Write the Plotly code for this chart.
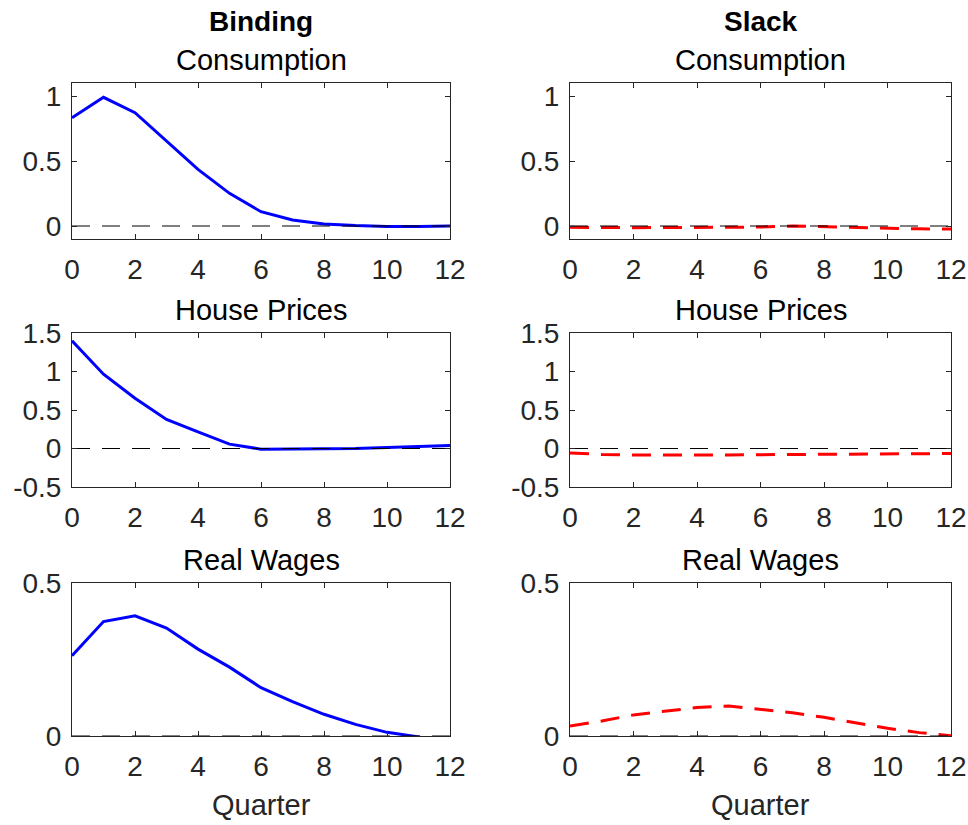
import plotly.graph_objects as go

quarters = list(range(13))

binding_consumption = [0.833, 0.99, 0.872, 0.654, 0.436, 0.251, 0.11, 0.046, 0.015, 0.003, -0.003, -0.003, 0.0]
slack_consumption = [-0.010, -0.013, -0.013, -0.012, -0.012, -0.011, -0.008, 0.0, -0.006, -0.012, -0.018, -0.022, -0.023]

binding_house = [1.40, 0.965, 0.652, 0.378, 0.217, 0.057, -0.009, -0.009, -0.004, 0.0, 0.013, 0.022, 0.039]
slack_house = [-0.057, -0.078, -0.085, -0.087, -0.087, -0.085, -0.080, -0.076, -0.074, -0.072, -0.069, -0.067, -0.065]

binding_wages = [0.262, 0.374, 0.393, 0.353, 0.284, 0.225, 0.158, 0.112, 0.071, 0.038, 0.012, -0.003, -0.030]
slack_wages = [0.033, 0.049, 0.069, 0.082, 0.093, 0.098, 0.088, 0.076, 0.061, 0.044, 0.025, 0.011, 0.001]

zero_line = [0.0] * 13

panel_titles = ["Consumption", "House Prices", "Real Wages"]
column_titles = ["Binding", "Slack"]
x_label = "Quarter"
x_ticks = [0, 2, 4, 6, 8, 10, 12]
y_ranges = [[-0.1, 1.1], [-0.5, 1.5], [0, 0.5]]
y_ticks = [[0, 0.5, 1], [-0.5, 0, 0.5, 1, 1.5], [0, 0.5]]
y_ticktext = [["0", "0.5", "1"], ["-0.5", "0", "0.5", "1", "1.5"], ["0", "0.5"]]

W, H = 968, 825
FONT = "Liberation Sans, Arial, sans-serif"
TXT = "#262626"

col_px = [(72, 450), (570, 951)]
row_px = [(83, 239), (333, 487), (583, 736)]

binding = [binding_consumption, binding_house, binding_wages]
slack = [slack_consumption, slack_house, slack_wages]

fig = go.Figure()
layout = dict(
    template="none",
    width=W, height=H, margin=dict(l=0, r=0, t=0, b=0, pad=0),
    paper_bgcolor="white", plot_bgcolor="white", showlegend=False,
    font=dict(family=FONT, color=TXT, size=28),
)
annotations = []
idx = 0
for r in range(3):
    for c in range(2):
        idx += 1
        xa = "x" if idx == 1 else f"x{idx}"
        ya = "y" if idx == 1 else f"y{idx}"
        data = binding[r] if c == 0 else slack[r]
        if c == 0:
            fig.add_trace(go.Scatter(x=quarters, y=data, mode="lines",
                                     line=dict(color="#0000ff", width=3),
                                     xaxis=xa, yaxis=ya))
        else:
            fig.add_trace(go.Scatter(x=quarters, y=data, mode="lines",
                                     line=dict(color="#ff0000", width=3, dash="19px,12px"),
                                     xaxis=xa, yaxis=ya))
        fig.add_trace(go.Scatter(x=quarters, y=zero_line, mode="lines",
                                 line=dict(color="black", width=1, dash="18px,12px"),
                                 xaxis=xa, yaxis=ya))
        x0, x1 = col_px[c]
        y0, y1 = row_px[r]
        common = dict(showline=True, linecolor=TXT, linewidth=1, mirror="ticks",
                      ticks="inside", ticklen=5, tickcolor=TXT, showgrid=False,
                      zeroline=False, automargin=False,
                      tickfont=dict(family=FONT, size=28, color=TXT))
        layout["xaxis" + ("" if idx == 1 else str(idx))] = dict(
            domain=[x0 / W, x1 / W], anchor=ya, range=[0, 12],
            tickvals=x_ticks, ticktext=[str(v) for v in x_ticks],
            ticklabelstandoff=5, **common)
        layout["yaxis" + ("" if idx == 1 else str(idx))] = dict(
            domain=[1 - y1 / H, 1 - y0 / H], anchor=xa, range=y_ranges[r],
            tickvals=y_ticks[r], ticktext=y_ticktext[r],
            ticklabelstandoff=4, **common)
        cx = (x0 + x1) / 2 / W
        annotations.append(dict(text=panel_titles[r], x=cx, y=1 - (y0 - 23) / H,
                                xref="paper", yref="paper", showarrow=False,
                                xanchor="center", yanchor="middle",
                                font=dict(family=FONT, size=29, color="black")))
        if r == 0:
            annotations.append(dict(text="<b>" + column_titles[c] + "</b>", x=cx,
                                    y=1 - 21 / H, xref="paper", yref="paper",
                                    showarrow=False, xanchor="center", yanchor="middle",
                                    font=dict(family=FONT, size=28, color="black")))
        if r == 2:
            annotations.append(dict(text=x_label, x=cx, y=1 - 805 / H,
                                    xref="paper", yref="paper", showarrow=False,
                                    xanchor="center", yanchor="middle",
                                    font=dict(family=FONT, size=29, color=TXT)))
layout["annotations"] = annotations
fig.update_layout(**layout)
fig.write_html("out.html")
